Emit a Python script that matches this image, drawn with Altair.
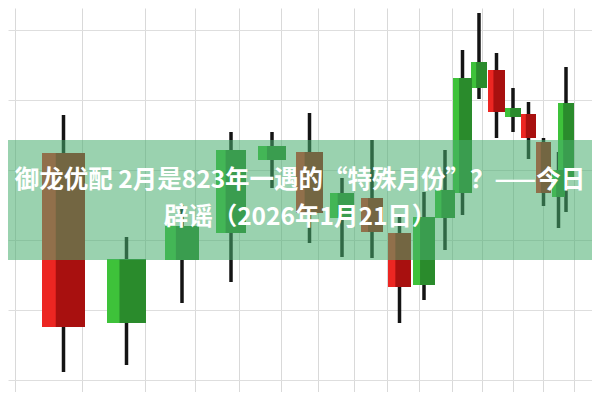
import altair as alt
import pandas as pd

# Candles (x extent in picture units, prices = 400 - pixel row)
x_left  = [42, 107, 165, 216, 258, 296, 330, 361, 388, 413, 435, 453, 471, 488, 505, 521, 536, 552, 558]
x_right = [85, 146, 199, 246, 286, 323, 354, 383, 411, 435, 455, 472, 487, 505, 521, 536, 551, 565, 574]
body_top = [247, 141, 174, 250, 254, 248, 207, 202, 167, 183, 210, 322, 338, 330, 292, 286, 258, 230, 297]
body_bot = [73, 77, 140, 167, 240, 187, 182, 168, 113, 115, 182, 207, 312, 288, 283, 262, 207, 203, 223]
high = [285, 163, 195, 268, 268, 287, 222, 260, 185, 208, 250, 350, 387, 347, 312, 298, 262, 248, 333]
low  = [28, 35, 97, 118, 212, 157, 143, 142, 77, 100, 150, 185, 301, 262, 268, 241, 194, 172, 188]
kind = ["down", "up", "up", "up", "up", "down", "up", "down", "down", "up", "up",
        "up", "up", "down", "up", "down", "down", "up", "up"]

grid_x = [15, 49, 82, 115, 145, 170, 195, 218, 239, 262, 281, 300, 318, 337, 354, 371,
          387, 404, 419, 436, 452, 467, 482, 498, 513, 528, 543, 559, 574, 589]
grid_y = [20, 55, 90, 125, 160, 195, 230, 265, 300, 335, 370]

title_1 = "御龙优配 2月是823年一遇的“特殊月份”？——今日"
title_2 = "辟谣（2026年1月21日）"

df = pd.DataFrame({
    "xl": x_left, "xr": x_right, "top": body_top, "bot": body_bot,
    "high": high, "low": low, "kind": kind,
})
df["xc"] = (df["xl"] + df["xr"]) / 2
df["xm"] = df["xl"] + (df["xr"] - df["xl"]) * 0.32

xs = alt.Scale(domain=[8, 592], nice=False, zero=False)
ys = alt.Scale(domain=[8, 392], nice=False, zero=False)

light = alt.Scale(domain=["up", "down"], range=["#3ec23a", "#ec2622"])
dark = alt.Scale(domain=["up", "down"], range=["#2a8b2c", "#a8100f"])

base = alt.Chart(df)

grid = base.mark_point(opacity=0).encode(
    x=alt.X("xc:Q", scale=xs, axis=alt.Axis(values=grid_x, grid=True, labels=False, ticks=False,
                                             domain=False, title=None, gridColor="#d9d9d9")),
    y=alt.Y("high:Q", scale=ys, axis=alt.Axis(values=grid_y, grid=True, labels=False, ticks=False,
                                               domain=False, title=None, gridColor="#dedede")),
)

wicks = base.mark_rule(color="#141414", strokeWidth=3.5).encode(
    x=alt.X("xc:Q", scale=xs), y=alt.Y("high:Q", scale=ys), y2="low:Q"
)

bodies = base.mark_rect().encode(
    x=alt.X("xl:Q", scale=xs), x2="xr:Q",
    y=alt.Y("top:Q", scale=ys), y2="bot:Q",
    color=alt.Color("kind:N", scale=light, legend=None),
)

shade = base.mark_rect().encode(
    x=alt.X("xm:Q", scale=xs), x2="xr:Q",
    y=alt.Y("top:Q", scale=ys), y2="bot:Q",
    fill=alt.Fill("kind:N", scale=dark, legend=None),
)

banner = alt.Chart(pd.DataFrame({"a": [0]})).mark_rect(color="#47ad6e", opacity=0.55).encode(
    x=alt.value(-8), x2=alt.value(600), y=alt.value(132), y2=alt.value(252)
)

txt1 = alt.Chart(pd.DataFrame({"t": [title_1]})).mark_text(
    font="Noto Sans CJK SC", fontSize=24.5, fontWeight="bold", color="white", baseline="middle", align="center"
).encode(x=alt.value(292), y=alt.value(173), text="t:N")

txt2 = alt.Chart(pd.DataFrame({"t": [title_2]})).mark_text(
    font="Noto Sans CJK SC", fontSize=24.5, fontWeight="bold", color="white", baseline="middle", align="center"
).encode(x=alt.value(292), y=alt.value(210), text="t:N")

chart = alt.layer(grid, wicks, bodies, shade, banner, txt1, txt2).resolve_scale(
    color="independent", fill="independent"
).properties(
    width=584, height=384, padding=0, autosize=alt.AutoSizeParams(type="none"),
    background="white",
).configure_view(stroke=None)

chart.save("out.html", embed_options={"renderer": "svg", "actions": False})
